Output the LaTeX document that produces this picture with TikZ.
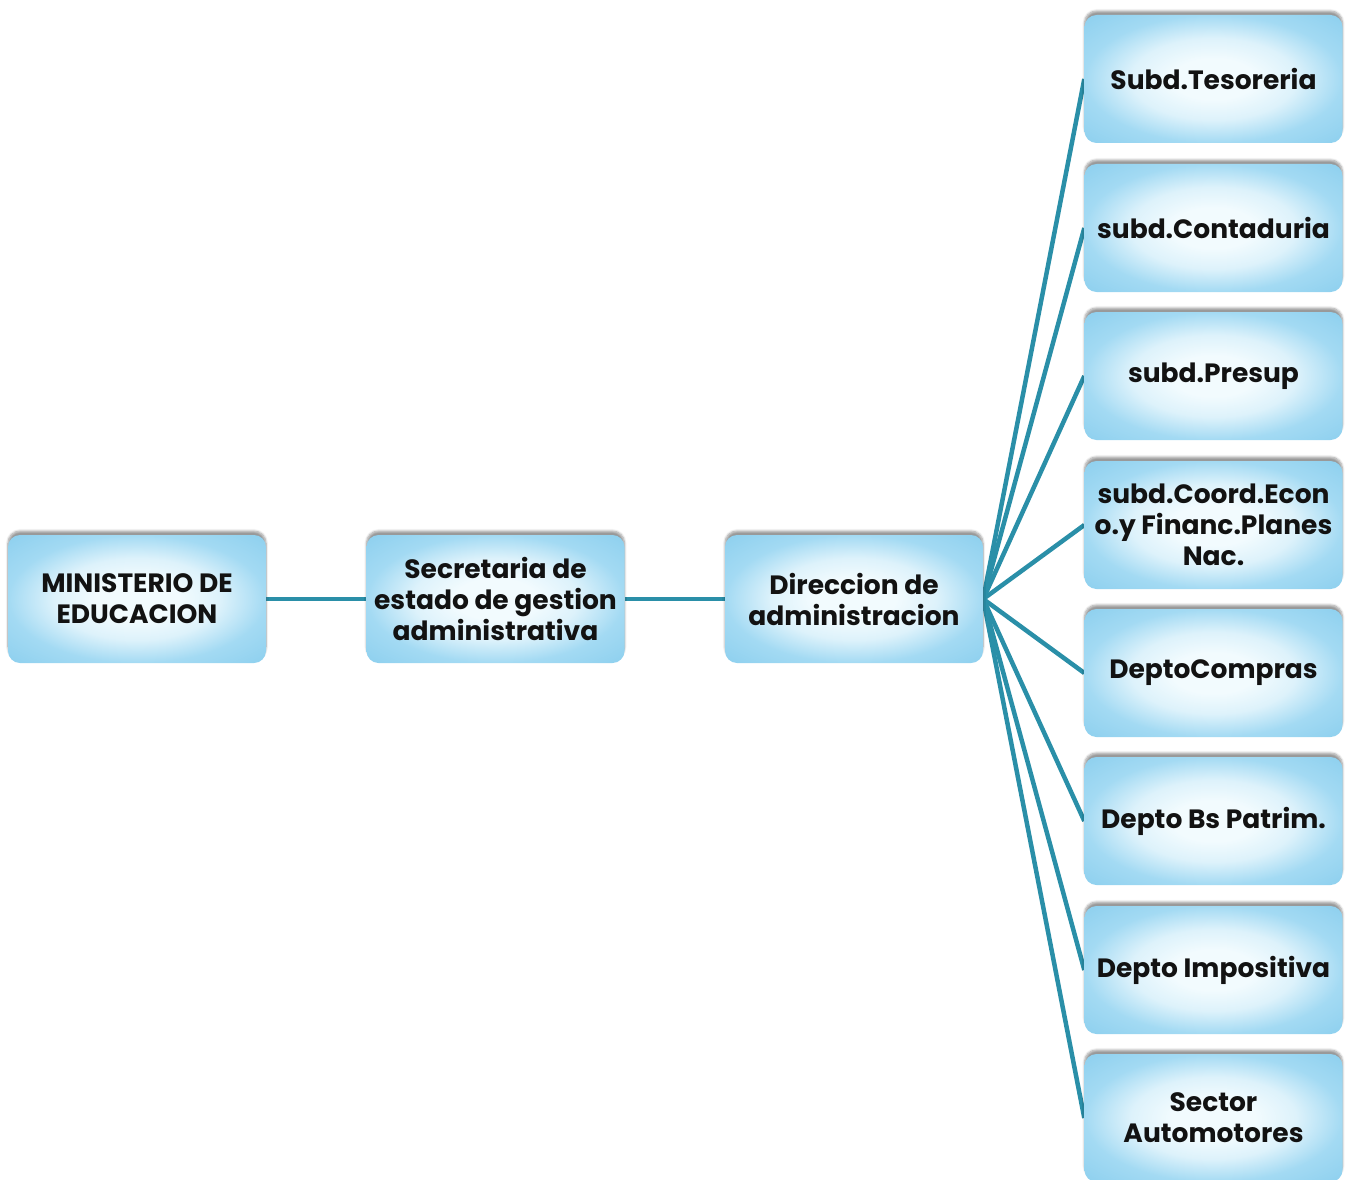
\documentclass[tikz,border=0pt]{standalone}
\usepackage{fontspec}
\setmainfont{Poppins}
\usetikzlibrary{shadows.blur,backgrounds}
\definecolor{boxedge}{HTML}{8CCFEE}
\definecolor{boxnear}{HTML}{A3DAF3}
\definecolor{boxmid}{HTML}{F2FBFE}
\definecolor{boxmid2}{HTML}{DDF2FB}
\definecolor{linkcol}{HTML}{2A8FA8}
\definecolor{txt}{HTML}{121212}
\pgfdeclareradialshading{boxshade}{\pgfpoint{0bp}{0bp}}{color(0bp)=(boxmid); color(8bp)=(boxmid); color(16bp)=(boxmid2); color(25bp)=(boxnear); color(36bp)=(boxedge); color(50bp)=(boxedge)}
\tikzset{
  orgbox/.style={rounded corners=12pt, minimum width=258pt, minimum height=128pt,
    inner sep=2pt, align=center, text=txt,
    shading=boxshade,
    font=\fontsize{26.5}{31}\selectfont\bfseries,
    blur shadow={shadow xshift=0pt, shadow yshift=4pt, shadow opacity=40, shadow blur steps=6}},
  link/.style={draw=linkcol, line width=4.5pt}
}
\begin{document}
\begin{tikzpicture}[x=1pt,y=-1pt]
\useasboundingbox (0,0) rectangle (1352,1180);
\node[orgbox] (min) at (137,599) {MINISTERIO DE\\EDUCACION};
\node[orgbox] (sec) at (495.5,599) {Secretaria de\\estado de gestion\\administrativa};
\node[orgbox] (dir) at (854,599) {Direccion de\\administracion};
\node[orgbox] (r1) at (1213.5,79) {Subd.Tesoreria};
\node[orgbox] (r2) at (1213.5,228) {subd.Contaduria};
\node[orgbox] (r3) at (1213.5,376) {subd.Presup};
\node[orgbox] (r4) at (1213.5,525) {subd.Coord.Econ\\o.y Financ.Planes\\Nac.};
\node[orgbox] (r5) at (1213.5,673) {DeptoCompras};
\node[orgbox] (r6) at (1213.5,821) {Depto Bs Patrim.};
\node[orgbox] (r7) at (1213.5,970) {Depto Impositiva};
\node[orgbox] (r8) at (1213.5,1118) {Sector\\Automotores};
\begin{scope}[on background layer]
\draw[link] (min.east) -- (sec.west);
\draw[link] (sec.east) -- (dir.west);
\foreach \i in {1,...,8} {\draw[link] (dir.east) -- (r\i.west);}
\end{scope}
\end{tikzpicture}
\end{document}
